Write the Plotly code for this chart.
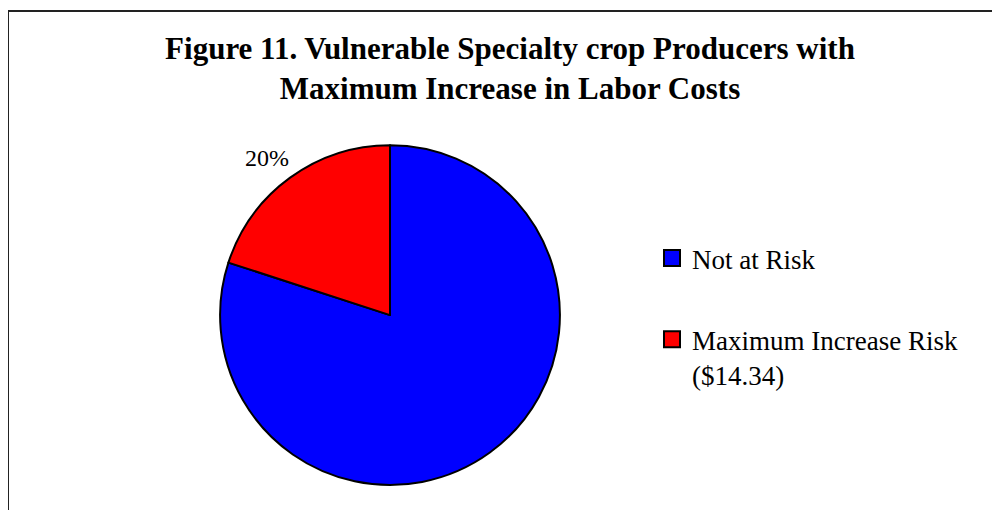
import plotly.graph_objects as go

title_lines = ["Figure 11. Vulnerable Specialty crop Producers with",
               "Maximum Increase in Labor Costs"]
categories = ["Not at Risk", "Maximum Increase Risk<br>($14.34)"]
values = [80, 20]
colors = ["#0000FF", "#FF0000"]
shown_labels = [False, True]

FONT = "Liberation Serif, Times New Roman, serif"
total = sum(values)
pct_text = [f"{v / total * 100:.0f}%" for v in values]

fig = go.Figure()
fig.add_trace(go.Pie(
    labels=categories, values=values, sort=False, direction="clockwise", rotation=0,
    marker=dict(colors=colors, line=dict(color="black", width=2)),
    textinfo="none",
    showlegend=False, domain=dict(x=[0.212, 0.552], y=[0.0647, 0.731]),
    hoverinfo="label+percent",
))
for i, (name, col) in enumerate(zip(categories, colors)):
    fig.add_trace(go.Scatter(
        x=[None], y=[None], mode="markers", name=name, legendgroup=f"g{i}",
        marker=dict(symbol="square", size=16, color=col, line=dict(color="black", width=2)),
    ))

annotations = []
for t, s in zip(pct_text, shown_labels):
    if s:
        annotations.append(dict(text=t, x=0.259, y=1 - 150 / 510, xref="paper", yref="paper",
                                showarrow=False, xanchor="center", yanchor="middle",
                                font=dict(family=FONT, size=24, color="black")))

fig.update_layout(
    width=1000, height=510,
    margin=dict(l=0, r=0, t=0, b=0),
    paper_bgcolor="white", plot_bgcolor="white",
    font=dict(family=FONT, color="black"),
    title=dict(text="<b>" + "<br>".join(title_lines) + "</b>",
               x=0.502, xanchor="center", xref="paper",
               y=1 - 51 / 510, yanchor="top", yref="container",
               font=dict(family=FONT, size=31, color="black")),
    xaxis=dict(visible=False), yaxis=dict(visible=False),
    legend=dict(x=0.644, xanchor="left", y=1 - 226 / 510, yanchor="top",
                font=dict(family=FONT, size=27, color="black"),
                bgcolor="rgba(0,0,0,0)", tracegroupgap=43, valign="top",
                traceorder="grouped"),
    annotations=annotations,
    shapes=[dict(type="rect", xref="paper", yref="paper",
                 x0=0.0, x1=1.02, y0=-0.02, y1=1 - 3 / 510,
                 line=dict(color="#222222", width=2), fillcolor="rgba(0,0,0,0)")],
)
fig.write_html("out.html")
